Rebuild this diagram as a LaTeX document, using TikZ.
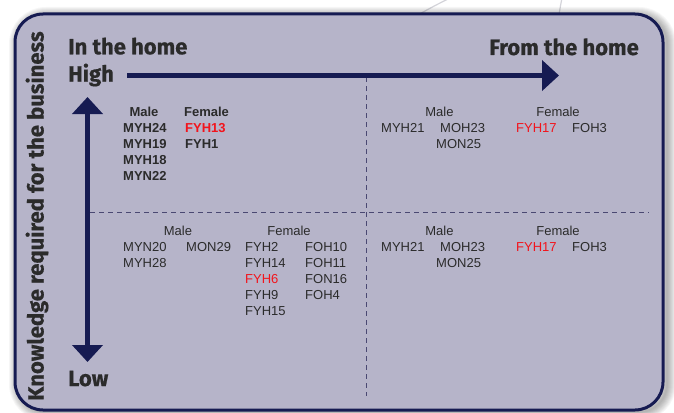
\documentclass[tikz,border=0pt]{standalone}
\usepackage{fontspec}
\setmainfont{Liberation Sans}
\newfontfamily\hdrfont[BoldFeatures={FakeBold=0.6}]{Fira Sans}
\usetikzlibrary{arrows.meta}
\definecolor{boxfill}{HTML}{B6B4C9}
\definecolor{navy}{HTML}{161B52}
\definecolor{txt}{HTML}{2B2B2B}
\definecolor{redt}{HTML}{F2141C}
\definecolor{dashc}{HTML}{4A4872}
\definecolor{arcc}{HTML}{D4D4DA}
\begin{document}
\begin{tikzpicture}[x=1pt,y=-1pt,
  hdr/.style={font=\hdrfont\bfseries\fontsize{22}{24}\selectfont, text=txt, inner sep=0pt},
  lbl/.style={font=\fontsize{13}{15}\selectfont, text=txt, inner sep=0pt},
  lblb/.style={lbl, font=\bfseries\fontsize{13}{15}\selectfont},
  hl/.style={text=redt},
  axis/.style={navy, line width=5pt, -{Triangle[width=30pt,length=17pt]}},
  axis2/.style={navy, line width=5pt, {Triangle[width=30pt,length=17pt]}-{Triangle[width=30pt,length=17pt]}},
  divider/.style={dashc, line width=1pt, dash pattern=on 5pt off 4pt}]
\useasboundingbox (0,0) rectangle (674,412);
\fill[white] (0,0) rectangle (674,412);
% faint background arcs
\draw[arcc, line width=1.2pt] (418,15) .. controls (430,8) and (440,3) .. (450,-2);
\draw[arcc, line width=1.2pt] (559,15) .. controls (560,8) and (561,3) .. (562,-2);
% shadow
\foreach \w in {2,4,...,18}
  \draw[black, opacity=0.035, line width=\w pt, rounded corners=28pt] (18,16) rectangle (667,412);
% box
\draw[navy, fill=boxfill, line width=3pt, rounded corners=28pt] (15,14) rectangle (663,410);
% dividers
\coordinate (hl) at (90,212);
\coordinate (hr) at (649,212);
\coordinate (vt) at (366,77);
\coordinate (vb) at (366,396);
\draw[divider] (hl) -- (hr);
\draw[divider] (vt) -- (vb);
% headers
\node[hdr, anchor=base west] (inhome) at (68,54.3) {In the home};
\node[hdr, anchor=base east] (fromhome) at (639,55) {From the home};
\node[hdr, anchor=base west] (high) at (68,81.5) {High};
\node[hdr, anchor=base west] (low) at (68,386) {Low};
\node[hdr, anchor=base, rotate=90] (know) at (43.5,216) {Knowledge required for the business};
% axes
\coordinate (hs) at (127,75.5);
\coordinate (he) at (559,75.5);
\draw[axis] (hs) -- (he);
\coordinate (vs) at (87.5,97);
\coordinate (ve) at (87.5,362);
\draw[axis2] (vs) -- (ve);
% top-left quadrant
\node[lblb, anchor=base] (tlm) at (144,116) {Male};
\node[lblb, anchor=base] (tlf) at (206.5,116) {Female};
\node[lblb, anchor=base west] (tl1) at (123,132) {MYH24};
\node[lblb, anchor=base west] (tl2) at (123,148) {MYH19};
\node[lblb, anchor=base west] (tl3) at (123,164) {MYH18};
\node[lblb, anchor=base west] (tl4) at (123,180) {MYN22};
\node[lblb, hl, anchor=base west] (tl5) at (185,132) {FYH13};
\node[lblb, anchor=base west] (tl6) at (185,148) {FYH1};
% top-right quadrant
\node[lbl, anchor=base] (trm) at (439.5,116) {Male};
\node[lbl, anchor=base] (trf) at (558,116) {Female};
\node[lbl, anchor=base west] (tr1) at (381,132) {MYH21};
\node[lbl, anchor=base west] (tr2) at (440,132) {MOH23};
\node[lbl, anchor=base west] (tr3) at (436,148) {MON25};
\node[lbl, hl, anchor=base west] (tr4) at (516,132) {FYH17};
\node[lbl, anchor=base west] (tr5) at (572,132) {FOH3};
% bottom-left quadrant
\node[lbl, anchor=base] (blm) at (178,235.3) {Male};
\node[lbl, anchor=base] (blf) at (289,235.3) {Female};
\node[lbl, anchor=base west] (bl1) at (123,251.3) {MYN20};
\node[lbl, anchor=base west] (bl2) at (123,267.3) {MYH28};
\node[lbl, anchor=base west] (bl3) at (186,251.3) {MON29};
\node[lbl, anchor=base west] (bl4) at (245,251.3) {FYH2};
\node[lbl, anchor=base west] (bl5) at (245,267.3) {FYH14};
\node[lbl, hl, anchor=base west] (bl6) at (245,283.3) {FYH6};
\node[lbl, anchor=base west] (bl7) at (245,299.3) {FYH9};
\node[lbl, anchor=base west] (bl8) at (245,315.3) {FYH15};
\node[lbl, anchor=base west] (bl9) at (305,251.3) {FOH10};
\node[lbl, anchor=base west] (bl10) at (305,267.3) {FOH11};
\node[lbl, anchor=base west] (bl11) at (305,283.3) {FON16};
\node[lbl, anchor=base west] (bl12) at (305,299.3) {FOH4};
% bottom-right quadrant
\node[lbl, anchor=base] (brm) at (439.5,235.3) {Male};
\node[lbl, anchor=base] (brf) at (558,235.3) {Female};
\node[lbl, anchor=base west] (br1) at (381,251.3) {MYH21};
\node[lbl, anchor=base west] (br2) at (440,251.3) {MOH23};
\node[lbl, anchor=base west] (br3) at (436,267.3) {MON25};
\node[lbl, hl, anchor=base west] (br4) at (516,251.3) {FYH17};
\node[lbl, anchor=base west] (br5) at (572,251.3) {FOH3};
\end{tikzpicture}
\end{document}
